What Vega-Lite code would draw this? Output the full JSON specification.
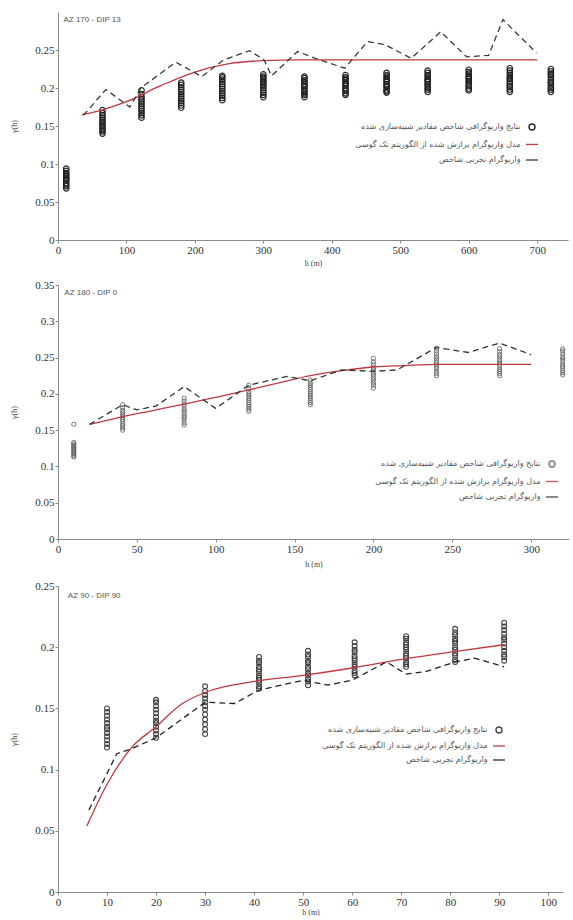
{
  "$schema": "https://vega.github.io/schema/vega-lite/v6.json",
  "padding": {"left": 10, "top": 12, "right": 0, "bottom": 0},
  "columns": 1,
  "spacing": 12,
  "background": "white",
  "config": {
    "view": {"stroke": null},
    "axis": {
      "domainColor": "#8a8a8a", "tickColor": "#8a8a8a", "labelColor": "#333333",
      "labelFont": "Liberation Serif", "labelFontSize": 11,
      "titleFont": "Liberation Serif", "titleFontSize": 8, "titleFontWeight": "normal", "titleColor": "#444444",
      "grid": false, "tickSize": 3, "labelPadding": 1, "labelFlush": false, "labelOverlap": false, "tickCount": 20
    },
    "axisX": {"titlePadding": 4},
    "axisY": {"titlePadding": 16},
    "legend": {
      "orient": "none", "labelAlign": "right", "labelOffset": -15.5, "labelFont": "DejaVu Sans",
      "labelFontSize": 8, "labelColor": "#555555", "labelLimit": 400, "rowPadding": 7.5,
      "symbolSize": 36, "symbolStrokeWidth": 1.4
    }
  },
  "resolve": {
    "scale": {"x": "independent", "y": "independent", "color": "independent", "shape": "independent"},
    "legend": {"color": "independent", "shape": "independent"}
  },
  "concat": [
    {
      "width": 510, "height": 228,
      "layer": [
        {
          "data": {"values": [
            {"h":12,"g":0.068},{"h":12,"g":0.071},{"h":12,"g":0.073},{"h":12,"g":0.075},{"h":12,"g":0.078},{"h":12,"g":0.080},{"h":12,"g":0.082},{"h":12,"g":0.084},{"h":12,"g":0.086},{"h":12,"g":0.088},{"h":12,"g":0.091},{"h":12,"g":0.094},
            {"h":65,"g":0.140},{"h":65,"g":0.143},{"h":65,"g":0.145},{"h":65,"g":0.148},{"h":65,"g":0.150},{"h":65,"g":0.153},{"h":65,"g":0.155},{"h":65,"g":0.158},{"h":65,"g":0.161},{"h":65,"g":0.164},{"h":65,"g":0.167},{"h":65,"g":0.171},
            {"h":122,"g":0.161},{"h":122,"g":0.164},{"h":122,"g":0.167},{"h":122,"g":0.170},{"h":122,"g":0.173},{"h":122,"g":0.176},{"h":122,"g":0.179},{"h":122,"g":0.182},{"h":122,"g":0.185},{"h":122,"g":0.188},{"h":122,"g":0.192},{"h":122,"g":0.197},
            {"h":180,"g":0.174},{"h":180,"g":0.177},{"h":180,"g":0.180},{"h":180,"g":0.183},{"h":180,"g":0.186},{"h":180,"g":0.189},{"h":180,"g":0.192},{"h":180,"g":0.195},{"h":180,"g":0.198},{"h":180,"g":0.201},{"h":180,"g":0.204},{"h":180,"g":0.207},
            {"h":240,"g":0.184},{"h":240,"g":0.187},{"h":240,"g":0.190},{"h":240,"g":0.193},{"h":240,"g":0.196},{"h":240,"g":0.199},{"h":240,"g":0.202},{"h":240,"g":0.205},{"h":240,"g":0.208},{"h":240,"g":0.211},{"h":240,"g":0.214},{"h":240,"g":0.216},
            {"h":300,"g":0.188},{"h":300,"g":0.191},{"h":300,"g":0.194},{"h":300,"g":0.197},{"h":300,"g":0.200},{"h":300,"g":0.203},{"h":300,"g":0.205},{"h":300,"g":0.208},{"h":300,"g":0.210},{"h":300,"g":0.213},{"h":300,"g":0.215},{"h":300,"g":0.218},
            {"h":360,"g":0.188},{"h":360,"g":0.191},{"h":360,"g":0.193},{"h":360,"g":0.196},{"h":360,"g":0.198},{"h":360,"g":0.201},{"h":360,"g":0.203},{"h":360,"g":0.205},{"h":360,"g":0.208},{"h":360,"g":0.210},{"h":360,"g":0.213},{"h":360,"g":0.215},
            {"h":420,"g":0.191},{"h":420,"g":0.193},{"h":420,"g":0.196},{"h":420,"g":0.198},{"h":420,"g":0.200},{"h":420,"g":0.203},{"h":420,"g":0.205},{"h":420,"g":0.207},{"h":420,"g":0.210},{"h":420,"g":0.212},{"h":420,"g":0.214},{"h":420,"g":0.217},
            {"h":480,"g":0.194},{"h":480,"g":0.196},{"h":480,"g":0.198},{"h":480,"g":0.201},{"h":480,"g":0.203},{"h":480,"g":0.205},{"h":480,"g":0.208},{"h":480,"g":0.210},{"h":480,"g":0.212},{"h":480,"g":0.215},{"h":480,"g":0.217},{"h":480,"g":0.220},
            {"h":540,"g":0.195},{"h":540,"g":0.198},{"h":540,"g":0.200},{"h":540,"g":0.203},{"h":540,"g":0.205},{"h":540,"g":0.208},{"h":540,"g":0.210},{"h":540,"g":0.212},{"h":540,"g":0.215},{"h":540,"g":0.217},{"h":540,"g":0.220},{"h":540,"g":0.223},
            {"h":600,"g":0.197},{"h":600,"g":0.199},{"h":600,"g":0.202},{"h":600,"g":0.204},{"h":600,"g":0.207},{"h":600,"g":0.209},{"h":600,"g":0.212},{"h":600,"g":0.214},{"h":600,"g":0.216},{"h":600,"g":0.219},{"h":600,"g":0.221},{"h":600,"g":0.224},
            {"h":660,"g":0.195},{"h":660,"g":0.198},{"h":660,"g":0.201},{"h":660,"g":0.203},{"h":660,"g":0.206},{"h":660,"g":0.209},{"h":660,"g":0.212},{"h":660,"g":0.214},{"h":660,"g":0.217},{"h":660,"g":0.220},{"h":660,"g":0.223},{"h":660,"g":0.226},
            {"h":720,"g":0.195},{"h":720,"g":0.198},{"h":720,"g":0.200},{"h":720,"g":0.203},{"h":720,"g":0.206},{"h":720,"g":0.208},{"h":720,"g":0.211},{"h":720,"g":0.214},{"h":720,"g":0.217},{"h":720,"g":0.219},{"h":720,"g":0.222},{"h":720,"g":0.225}
          ]},
          "mark": {"type": "point", "filled": false, "size": 30, "strokeWidth": 1.2, "opacity": 0.95},
          "encoding": {
            "x": {"field": "h", "type": "quantitative", "scale": {"domain": [0, 745], "nice": false}, "axis": {"title": "h (m)", "values": [0,100,200,300,400,500,600,700], "tickCount": 20, "labelOverlap": false}},
            "y": {"field": "g", "type": "quantitative", "scale": {"domain": [0, 0.3], "nice": false}, "axis": {"title": "γ(h)", "values": [0,0.05,0.1,0.15,0.2,0.25], "tickCount": 20, "format": "~g", "labelOverlap": false}},
            "color": {"datum": "نتایج واریوگرافی شاخص مقادیر شبیه‌سازی شده", "scale": {"domain": ["نتایج واریوگرافی شاخص مقادیر شبیه‌سازی شده", "مدل واریوگرام برازش شده از الگوریتم تک گوسی", "واریوگرام تجربی شاخص"], "range": ["#1e1e1e", "#c0393f", "#2e4232"]}, "legend": {"title": null, "legendX": 470, "legendY": 111}},
            "shape": {"datum": "نتایج واریوگرافی شاخص مقادیر شبیه‌سازی شده", "scale": {"domain": ["نتایج واریوگرافی شاخص مقادیر شبیه‌سازی شده", "مدل واریوگرام برازش شده از الگوریتم تک گوسی", "واریوگرام تجربی شاخص"], "range": ["circle", "M-2,0H2", "M-2,0H2"]}, "legend": {"title": null, "legendX": 470, "legendY": 111}}
          }
        },
        {
          "data": {"values": [
            {"h":35,"g":0.165},{"h":60,"g":0.170},{"h":100,"g":0.182},{"h":150,"g":0.203},{"h":200,"g":0.221},{"h":250,"g":0.232},{"h":300,"g":0.236},{"h":350,"g":0.237},{"h":700,"g":0.237}
          ]},
          "mark": {"type": "line", "strokeWidth": 1.3, "interpolate": "monotone"},
          "encoding": {
            "x": {"field": "h", "type": "quantitative"},
            "y": {"field": "g", "type": "quantitative"},
            "color": {"datum": "مدل واریوگرام برازش شده از الگوریتم تک گوسی"}
          }
        },
        {
          "data": {"values": [
            {"h":37,"g":0.164},{"h":70,"g":0.198},{"h":105,"g":0.175},{"h":121,"g":0.200},{"h":172,"g":0.234},{"h":210,"g":0.215},{"h":242,"g":0.237},{"h":280,"g":0.249},{"h":301,"g":0.237},{"h":312,"g":0.216},{"h":350,"g":0.248},{"h":376,"g":0.239},{"h":419,"g":0.226},{"h":452,"g":0.261},{"h":478,"g":0.257},{"h":516,"g":0.239},{"h":559,"g":0.274},{"h":597,"g":0.241},{"h":629,"g":0.243},{"h":650,"g":0.290},{"h":699,"g":0.246}
          ]},
          "mark": {"type": "line", "strokeWidth": 1.3, "strokeDash": [6, 4]},
          "encoding": {
            "x": {"field": "h", "type": "quantitative"},
            "y": {"field": "g", "type": "quantitative"},
            "color": {"datum": "واریوگرام تجربی شاخص"}
          }
        },
        {
          "data": {"values": [{"label": "AZ 170 - DIP 13"}]},
          "mark": {"type": "text", "align": "left", "baseline": "middle", "font": "Liberation Sans", "fontSize": 8, "color": "#555555"},
          "encoding": {"x": {"datum": 8}, "y": {"datum": 0.289}, "text": {"field": "label"}}
        }
      ]
    },
    {
      "width": 511, "height": 254,
      "layer": [
        {
          "data": {"values": [
            {"h":10,"g":0.113},{"h":10,"g":0.115},{"h":10,"g":0.117},{"h":10,"g":0.119},{"h":10,"g":0.121},{"h":10,"g":0.123},{"h":10,"g":0.125},{"h":10,"g":0.127},{"h":10,"g":0.129},{"h":10,"g":0.131},{"h":10,"g":0.133},{"h":10,"g":0.158},
            {"h":41,"g":0.150},{"h":41,"g":0.153},{"h":41,"g":0.156},{"h":41,"g":0.159},{"h":41,"g":0.162},{"h":41,"g":0.165},{"h":41,"g":0.168},{"h":41,"g":0.171},{"h":41,"g":0.174},{"h":41,"g":0.177},{"h":41,"g":0.181},{"h":41,"g":0.185},
            {"h":80,"g":0.157},{"h":80,"g":0.160},{"h":80,"g":0.164},{"h":80,"g":0.167},{"h":80,"g":0.170},{"h":80,"g":0.173},{"h":80,"g":0.176},{"h":80,"g":0.179},{"h":80,"g":0.183},{"h":80,"g":0.186},{"h":80,"g":0.190},{"h":80,"g":0.194},
            {"h":121,"g":0.176},{"h":121,"g":0.179},{"h":121,"g":0.182},{"h":121,"g":0.185},{"h":121,"g":0.188},{"h":121,"g":0.191},{"h":121,"g":0.194},{"h":121,"g":0.197},{"h":121,"g":0.200},{"h":121,"g":0.203},{"h":121,"g":0.207},{"h":121,"g":0.212},
            {"h":160,"g":0.185},{"h":160,"g":0.188},{"h":160,"g":0.191},{"h":160,"g":0.194},{"h":160,"g":0.197},{"h":160,"g":0.200},{"h":160,"g":0.203},{"h":160,"g":0.206},{"h":160,"g":0.209},{"h":160,"g":0.212},{"h":160,"g":0.215},{"h":160,"g":0.219},
            {"h":200,"g":0.208},{"h":200,"g":0.212},{"h":200,"g":0.215},{"h":200,"g":0.219},{"h":200,"g":0.222},{"h":200,"g":0.226},{"h":200,"g":0.229},{"h":200,"g":0.233},{"h":200,"g":0.236},{"h":200,"g":0.240},{"h":200,"g":0.244},{"h":200,"g":0.249},
            {"h":240,"g":0.225},{"h":240,"g":0.228},{"h":240,"g":0.231},{"h":240,"g":0.235},{"h":240,"g":0.238},{"h":240,"g":0.241},{"h":240,"g":0.244},{"h":240,"g":0.248},{"h":240,"g":0.251},{"h":240,"g":0.255},{"h":240,"g":0.259},{"h":240,"g":0.263},
            {"h":280,"g":0.225},{"h":280,"g":0.228},{"h":280,"g":0.231},{"h":280,"g":0.234},{"h":280,"g":0.238},{"h":280,"g":0.241},{"h":280,"g":0.244},{"h":280,"g":0.247},{"h":280,"g":0.251},{"h":280,"g":0.254},{"h":280,"g":0.258},{"h":280,"g":0.262},
            {"h":320,"g":0.226},{"h":320,"g":0.229},{"h":320,"g":0.232},{"h":320,"g":0.235},{"h":320,"g":0.238},{"h":320,"g":0.241},{"h":320,"g":0.245},{"h":320,"g":0.248},{"h":320,"g":0.251},{"h":320,"g":0.255},{"h":320,"g":0.259},{"h":320,"g":0.262}
          ]},
          "mark": {"type": "point", "filled": false, "size": 18, "strokeWidth": 1, "opacity": 0.8},
          "encoding": {
            "x": {"field": "h", "type": "quantitative", "scale": {"domain": [0, 324], "nice": false}, "axis": {"title": "h (m)", "values": [0,50,100,150,200,250,300], "tickCount": 20, "titlePadding": 6, "labelOverlap": false}},
            "y": {"field": "g", "type": "quantitative", "scale": {"domain": [0, 0.35], "nice": false}, "axis": {"title": "γ(h)", "values": [0,0.05,0.1,0.15,0.2,0.25,0.3,0.35], "tickCount": 20, "format": "~g", "labelOverlap": false}},
            "color": {"datum": "نتایج واریوگرافی شاخص مقادیر شبیه‌سازی شده", "scale": {"domain": ["نتایج واریوگرافی شاخص مقادیر شبیه‌سازی شده", "مدل واریوگرام برازش شده از الگوریتم تک گوسی", "واریوگرام تجربی شاخص"], "range": ["#555555", "#c0393f", "#2a3a2c"]}, "legend": {"title": null, "legendX": 490, "legendY": 175}},
            "shape": {"datum": "نتایج واریوگرافی شاخص مقادیر شبیه‌سازی شده", "scale": {"domain": ["نتایج واریوگرافی شاخص مقادیر شبیه‌سازی شده", "مدل واریوگرام برازش شده از الگوریتم تک گوسی", "واریوگرام تجربی شاخص"], "range": ["circle", "M-2,0H2", "M-2,0H2"]}, "legend": {"title": null, "legendX": 490, "legendY": 175}}
          }
        },
        {
          "data": {"values": [
            {"h":20,"g":0.158},{"h":40,"g":0.168},{"h":60,"g":0.177},{"h":80,"g":0.186},{"h":100,"g":0.195},{"h":120,"g":0.205},{"h":140,"g":0.215},{"h":160,"g":0.225},{"h":180,"g":0.232},{"h":200,"g":0.237},{"h":220,"g":0.239},{"h":240,"g":0.2405},{"h":300,"g":0.2405}
          ]},
          "mark": {"type": "line", "strokeWidth": 1.3, "interpolate": "monotone"},
          "encoding": {
            "x": {"field": "h", "type": "quantitative"},
            "y": {"field": "g", "type": "quantitative"},
            "color": {"datum": "مدل واریوگرام برازش شده از الگوریتم تک گوسی"}
          }
        },
        {
          "data": {"values": [
            {"h":20,"g":0.158},{"h":41,"g":0.185},{"h":50,"g":0.178},{"h":62,"g":0.183},{"h":80,"g":0.210},{"h":100,"g":0.180},{"h":121,"g":0.212},{"h":145,"g":0.224},{"h":160,"g":0.218},{"h":180,"g":0.233},{"h":200,"g":0.231},{"h":215,"g":0.233},{"h":240,"g":0.264},{"h":260,"g":0.257},{"h":280,"g":0.270},{"h":300,"g":0.254}
          ]},
          "mark": {"type": "line", "strokeWidth": 1.3, "strokeDash": [6, 4]},
          "encoding": {
            "x": {"field": "h", "type": "quantitative"},
            "y": {"field": "g", "type": "quantitative"},
            "color": {"datum": "واریوگرام تجربی شاخص"}
          }
        },
        {
          "data": {"values": [{"label": "AZ 180 - DIP 0"}]},
          "mark": {"type": "text", "align": "left", "baseline": "middle", "font": "Liberation Sans", "fontSize": 8, "color": "#555555"},
          "encoding": {"x": {"datum": 4}, "y": {"datum": 0.339}, "text": {"field": "label"}}
        }
      ]
    },
    {
      "width": 505, "height": 306,
      "layer": [
        {
          "data": {"values": [
            {"h":10,"g":0.118},{"h":10,"g":0.121},{"h":10,"g":0.124},{"h":10,"g":0.127},{"h":10,"g":0.130},{"h":10,"g":0.133},{"h":10,"g":0.135},{"h":10,"g":0.138},{"h":10,"g":0.141},{"h":10,"g":0.144},{"h":10,"g":0.147},{"h":10,"g":0.150},
            {"h":20,"g":0.126},{"h":20,"g":0.129},{"h":20,"g":0.132},{"h":20,"g":0.135},{"h":20,"g":0.138},{"h":20,"g":0.140},{"h":20,"g":0.143},{"h":20,"g":0.146},{"h":20,"g":0.149},{"h":20,"g":0.152},{"h":20,"g":0.155},{"h":20,"g":0.157},
            {"h":30,"g":0.129},{"h":30,"g":0.133},{"h":30,"g":0.137},{"h":30,"g":0.141},{"h":30,"g":0.145},{"h":30,"g":0.149},{"h":30,"g":0.152},{"h":30,"g":0.155},{"h":30,"g":0.158},{"h":30,"g":0.161},{"h":30,"g":0.164},{"h":30,"g":0.168},
            {"h":41,"g":0.166},{"h":41,"g":0.168},{"h":41,"g":0.171},{"h":41,"g":0.173},{"h":41,"g":0.175},{"h":41,"g":0.177},{"h":41,"g":0.180},{"h":41,"g":0.182},{"h":41,"g":0.184},{"h":41,"g":0.187},{"h":41,"g":0.189},{"h":41,"g":0.192},
            {"h":51,"g":0.169},{"h":51,"g":0.172},{"h":51,"g":0.174},{"h":51,"g":0.177},{"h":51,"g":0.179},{"h":51,"g":0.182},{"h":51,"g":0.184},{"h":51,"g":0.187},{"h":51,"g":0.189},{"h":51,"g":0.192},{"h":51,"g":0.194},{"h":51,"g":0.197},
            {"h":60.5,"g":0.177},{"h":60.5,"g":0.179},{"h":60.5,"g":0.181},{"h":60.5,"g":0.184},{"h":60.5,"g":0.186},{"h":60.5,"g":0.189},{"h":60.5,"g":0.191},{"h":60.5,"g":0.193},{"h":60.5,"g":0.196},{"h":60.5,"g":0.198},{"h":60.5,"g":0.201},{"h":60.5,"g":0.204},
            {"h":71,"g":0.184},{"h":71,"g":0.186},{"h":71,"g":0.188},{"h":71,"g":0.191},{"h":71,"g":0.193},{"h":71,"g":0.195},{"h":71,"g":0.198},{"h":71,"g":0.200},{"h":71,"g":0.202},{"h":71,"g":0.204},{"h":71,"g":0.207},{"h":71,"g":0.209},
            {"h":81,"g":0.188},{"h":81,"g":0.190},{"h":81,"g":0.193},{"h":81,"g":0.195},{"h":81,"g":0.198},{"h":81,"g":0.200},{"h":81,"g":0.203},{"h":81,"g":0.205},{"h":81,"g":0.207},{"h":81,"g":0.210},{"h":81,"g":0.212},{"h":81,"g":0.215},
            {"h":91,"g":0.189},{"h":91,"g":0.192},{"h":91,"g":0.194},{"h":91,"g":0.197},{"h":91,"g":0.200},{"h":91,"g":0.203},{"h":91,"g":0.206},{"h":91,"g":0.208},{"h":91,"g":0.211},{"h":91,"g":0.214},{"h":91,"g":0.217},{"h":91,"g":0.220}
          ]},
          "mark": {"type": "point", "filled": false, "size": 24, "strokeWidth": 1.1, "opacity": 0.9},
          "encoding": {
            "x": {"field": "h", "type": "quantitative", "scale": {"domain": [0, 103], "nice": false}, "axis": {"title": "h (m)", "values": [0,10,20,30,40,50,60,70,80,90,100], "tickCount": 20, "titlePadding": 1, "labelOverlap": false}},
            "y": {"field": "g", "type": "quantitative", "scale": {"domain": [0, 0.25], "nice": false}, "axis": {"title": "γ(h)", "values": [0,0.05,0.1,0.15,0.2,0.25], "tickCount": 20, "format": "~g", "labelOverlap": false}},
            "color": {"datum": "نتایج واریوگرافی شاخص مقادیر شبیه‌سازی شده", "scale": {"domain": ["نتایج واریوگرافی شاخص مقادیر شبیه‌سازی شده", "مدل واریوگرام برازش شده از الگوریتم تک گوسی", "واریوگرام تجربی شاخص"], "range": ["#333333", "#c0393f", "#222222"]}, "legend": {"title": null, "legendX": 437, "legendY": 140, "rowPadding": 6}},
            "shape": {"datum": "نتایج واریوگرافی شاخص مقادیر شبیه‌سازی شده", "scale": {"domain": ["نتایج واریوگرافی شاخص مقادیر شبیه‌سازی شده", "مدل واریوگرام برازش شده از الگوریتم تک گوسی", "واریوگرام تجربی شاخص"], "range": ["circle", "M-2,0H2", "M-2,0H2"]}, "legend": {"title": null, "legendX": 437, "legendY": 140, "rowPadding": 6}}
          }
        },
        {
          "data": {"values": [
            {"h":5.9,"g":0.054},{"h":10,"g":0.088},{"h":15,"g":0.118},{"h":20,"g":0.135},{"h":25,"g":0.153},{"h":30,"g":0.163},{"h":40,"g":0.172},{"h":50,"g":0.177},{"h":60,"g":0.183},{"h":70,"g":0.190},{"h":80,"g":0.196},{"h":91,"g":0.202}
          ]},
          "mark": {"type": "line", "strokeWidth": 1.3, "interpolate": "monotone"},
          "encoding": {
            "x": {"field": "h", "type": "quantitative"},
            "y": {"field": "g", "type": "quantitative"},
            "color": {"datum": "مدل واریوگرام برازش شده از الگوریتم تک گوسی"}
          }
        },
        {
          "data": {"values": [
            {"h":6.3,"g":0.067},{"h":12,"g":0.113},{"h":15,"g":0.117},{"h":20,"g":0.126},{"h":30,"g":0.155},{"h":36,"g":0.154},{"h":41,"g":0.165},{"h":50,"g":0.173},{"h":55,"g":0.169},{"h":60,"g":0.173},{"h":67,"g":0.188},{"h":71,"g":0.178},{"h":75,"g":0.180},{"h":81,"g":0.188},{"h":85,"g":0.191},{"h":91,"g":0.184}
          ]},
          "mark": {"type": "line", "strokeWidth": 1.3, "strokeDash": [6, 4]},
          "encoding": {
            "x": {"field": "h", "type": "quantitative"},
            "y": {"field": "g", "type": "quantitative"},
            "color": {"datum": "واریوگرام تجربی شاخص"}
          }
        },
        {
          "data": {"values": [{"label": "AZ 90 - DIP 90"}]},
          "mark": {"type": "text", "align": "left", "baseline": "middle", "font": "Liberation Sans", "fontSize": 8, "color": "#555555"},
          "encoding": {"x": {"datum": 2}, "y": {"datum": 0.242}, "text": {"field": "label"}}
        }
      ]
    }
  ]
}
